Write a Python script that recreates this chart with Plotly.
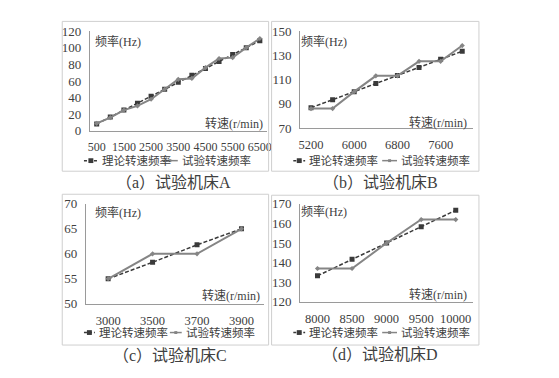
import plotly.graph_objects as go

# ---------------- data ----------------
a_rpm = [500, 1000, 1500, 2000, 2500, 3000, 3500, 4000, 4500, 5000, 5500, 6000, 6500]
a_theo = [8.3, 16.7, 25, 33.3, 41.7, 50, 58.3, 66.7, 75, 83.3, 91.7, 100, 108.3]
a_exp = [9, 16, 25, 30, 38, 50, 62, 63, 76, 87, 88, 100, 111]
a_ticks = [500, 1500, 2500, 3500, 4500, 5500, 6500]

b_rpm = [5200, 5600, 6000, 6400, 6800, 7200, 7600, 8000]
b_theo = [86.7, 93.3, 100, 106.7, 113.3, 120, 126.7, 133.3]
b_exp = [86, 86, 100, 113, 113, 125, 125, 138]
b_ticks = [5200, 6000, 6800, 7600]

c_rpm = [3000, 3500, 3700, 3900]
c_theo = [55, 58.3, 61.8, 65]
c_exp = [55, 60, 60, 65]
c_ticks = [3000, 3500, 3700, 3900]

d_rpm = [8000, 8500, 9000, 9500, 10000]
d_theo = [133.3, 141.7, 150, 158.3, 166.7]
d_exp = [137, 137, 150, 162, 162]
d_ticks = [8000, 8500, 9000, 9500, 10000]

series_names = ["理论转速频率", "试验转速频率"]
captions = ["（a）试验机床A", "（b）试验机床B", "（c）试验机床C", "（d）试验机床D"]
y_title = "频率(Hz)"
x_title = "转速(r/min)"

# ---------------- layout helpers ----------------
W, H = 559, 378
def fx(x):
    return x / W
def fy(y):
    return 1 - y / H

FONT = "'Times New Roman', 'Liberation Serif', 'DejaVu Serif', 'Noto Sans CJK SC', serif"
TXT = "#404040"
THEO_C = "#3a3a3a"
EXP_C = "#858585"

panels = [
    dict(rpm=a_rpm, theo=a_theo, exp=a_exp, ticks=a_ticks, yr=[0, 120], dt=20,
         xd=(89, 268), yd=(25, 129), frame=(61, 15, 270, 171),
         ytl=(92, 36), xtl=(266, 121), leg_y=160, leg=(83, 97, 99, 162, 178, 180),
         cap=(174, 183), xfs=12),
    dict(rpm=b_rpm, theo=b_theo, exp=b_exp, ticks=b_ticks, yr=[70, 150], dt=20,
         xd=(302, 477), yd=(25, 126), frame=(273, 15, 483, 171),
         ytl=(301, 36), xtl=(473, 120), leg_y=160, leg=(295, 307, 309, 385, 400, 402),
         cap=(383, 183), xfs=12.5),
    dict(rpm=c_rpm, theo=c_theo, exp=c_exp, ticks=c_ticks, yr=[50, 70], dt=5,
         xd=(85, 265), yd=(205, 309), frame=(61, 195, 270, 352),
         ytl=(92, 214), xtl=(263, 300), leg_y=339, leg=(83, 94, 96, 170, 182, 184),
         cap=(170, 363), xfs=12.5),
    dict(rpm=d_rpm, theo=d_theo, exp=d_exp, ticks=d_ticks, yr=[120, 170], dt=10,
         xd=(302, 477), yd=(205, 307), frame=(273, 196, 483, 352),
         ytl=(301, 213), xtl=(473, 299), leg_y=339, leg=(295, 307, 309, 385, 400, 402),
         cap=(383, 362), xfs=12.5),
]

fig = go.Figure()
shapes = []
annotations = []
layout_axes = {}

for i, p in enumerate(panels):
    n = i + 1
    xa = "x" if n == 1 else f"x{n}"
    ya = "y" if n == 1 else f"y{n}"
    cats = [str(v) for v in p["rpm"]]
    fig.add_trace(go.Scatter(
        x=cats, y=p["theo"], xaxis=xa, yaxis=ya, mode="lines+markers",
        name=series_names[0], showlegend=False,
        line=dict(color=THEO_C, width=1.5, dash="4px,2px"),
        marker=dict(symbol="square", size=5, color=THEO_C)))
    fig.add_trace(go.Scatter(
        x=cats, y=p["exp"], xaxis=xa, yaxis=ya, mode="lines+markers",
        name=series_names[1], showlegend=False,
        line=dict(color=EXP_C, width=2),
        marker=dict(symbol="diamond", size=4, color=EXP_C)))

    xkey = "xaxis" if n == 1 else f"xaxis{n}"
    ykey = "yaxis" if n == 1 else f"yaxis{n}"
    layout_axes[xkey] = dict(
        domain=[fx(p["xd"][0]), fx(p["xd"][1])], anchor=ya,
        type="category", range=[-0.5, len(cats) - 0.5],
        tickmode="array", tickvals=[str(v) for v in p["ticks"]],
        ticktext=[str(v) for v in p["ticks"]], tickangle=0,
        showline=True, linecolor="#9a9a9a", linewidth=1,
        showgrid=False, zeroline=False,
        ticks="outside", ticklen=5, tickcolor="rgba(0,0,0,0)",
        tickfont=dict(family=FONT, size=p["xfs"], color=TXT), fixedrange=True)
    layout_axes[ykey] = dict(
        domain=[fy(p["yd"][1]), fy(p["yd"][0])], anchor=xa,
        range=p["yr"], dtick=p["dt"], tick0=p["yr"][0],
        showline=True, linecolor="#9a9a9a", linewidth=1,
        showgrid=False, zeroline=False,
        ticks="outside", ticklen=5, tickcolor="rgba(0,0,0,0)",
        tickfont=dict(family=FONT, size=13, color=TXT), fixedrange=True)

    # panel frame
    x0, y0, x1, y1 = p["frame"]
    shapes.append(dict(type="rect", xref="paper", yref="paper",
                       x0=fx(x0), x1=fx(x1), y0=fy(y1), y1=fy(y0),
                       line=dict(color="#cfcfcf", width=1)))
    # axis titles inside plot
    annotations.append(dict(xref="paper", yref="paper", x=fx(p["ytl"][0]), y=fy(p["ytl"][1]),
                            text=y_title, showarrow=False, xanchor="left", yanchor="middle",
                            font=dict(family=FONT, size=12, color=TXT)))
    annotations.append(dict(xref="paper", yref="paper", x=fx(p["xtl"][0]), y=fy(p["xtl"][1]),
                            text=x_title, showarrow=False, xanchor="right", yanchor="middle",
                            font=dict(family=FONT, size=12, color=TXT)))
    # legend (drawn manually)
    s1a, s1b, t1, s2a, s2b, t2 = p["leg"]
    ly = fy(p["leg_y"])
    shapes.append(dict(type="line", xref="paper", yref="paper", x0=fx(s1a), x1=fx(s1b), y0=ly, y1=ly,
                       line=dict(color=THEO_C, width=1.5, dash="3px,2px")))
    cx = (s1a + s1b) / 2
    shapes.append(dict(type="rect", xref="paper", yref="paper", x0=fx(cx - 2.5), x1=fx(cx + 2.5),
                       y0=fy(p["leg_y"] + 2.5), y1=fy(p["leg_y"] - 2.5),
                       fillcolor=THEO_C, line=dict(width=0)))
    shapes.append(dict(type="line", xref="paper", yref="paper", x0=fx(s2a), x1=fx(s2b), y0=ly, y1=ly,
                       line=dict(color=EXP_C, width=1.5)))
    cx2 = (s2a + s2b) / 2
    shapes.append(dict(type="rect", xref="paper", yref="paper", x0=fx(cx2 - 1.5), x1=fx(cx2 + 1.5),
                       y0=fy(p["leg_y"] + 1.5), y1=fy(p["leg_y"] - 1.5),
                       fillcolor=EXP_C, line=dict(width=0)))
    annotations.append(dict(xref="paper", yref="paper", x=fx(t1), y=ly, text=series_names[0],
                            showarrow=False, xanchor="left", yanchor="middle",
                            font=dict(family=FONT, size=11.5, color=TXT)))
    annotations.append(dict(xref="paper", yref="paper", x=fx(t2), y=ly, text=series_names[1],
                            showarrow=False, xanchor="left", yanchor="middle",
                            font=dict(family=FONT, size=11.5, color=TXT)))
    # caption
    annotations.append(dict(xref="paper", yref="paper", x=fx(p["cap"][0]), y=fy(p["cap"][1]),
                            text=captions[i], showarrow=False, xanchor="center", yanchor="middle",
                            font=dict(family=FONT, size=16, color=TXT)))

fig.update_layout(
    width=W, height=H, margin=dict(l=0, r=0, t=0, b=0),
    paper_bgcolor="white", plot_bgcolor="white", showlegend=False,
    font=dict(family=FONT, color=TXT),
    shapes=shapes, annotations=annotations, **layout_axes)

fig.write_html(
    "out.html", config={"displayModeBar": False},
    post_script="document.body.style.margin='0';document.body.style.padding='0';"
                "document.body.style.overflow='hidden';")
